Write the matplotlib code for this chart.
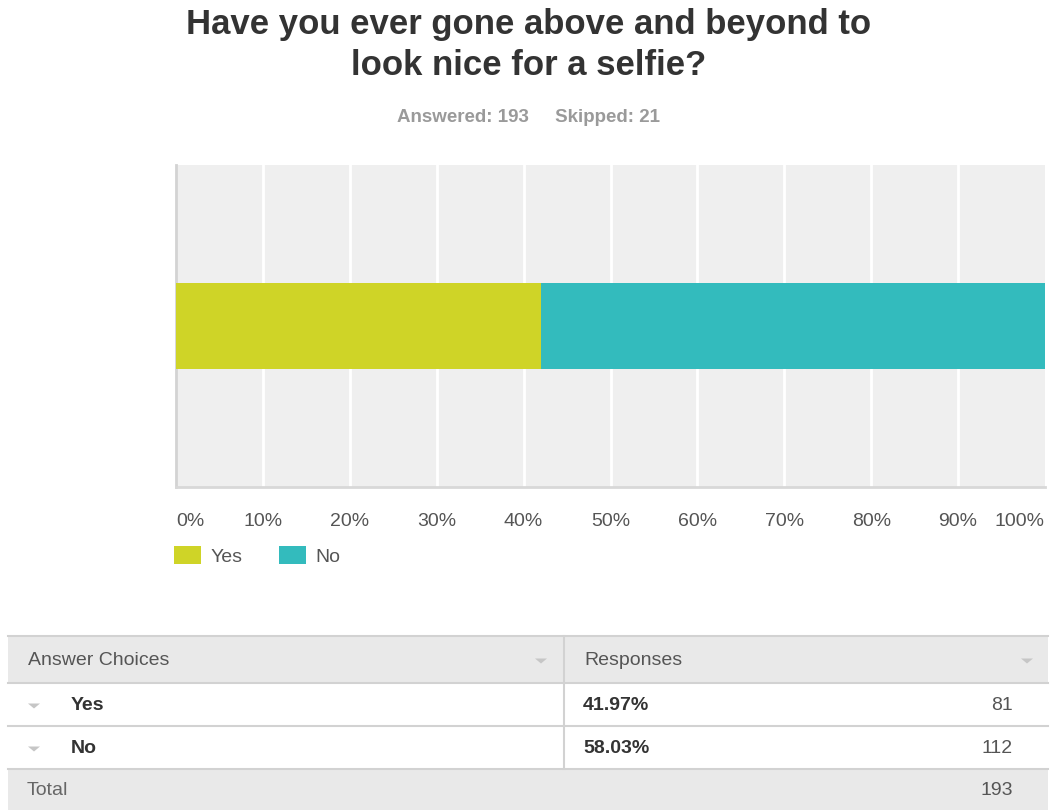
import matplotlib.pyplot as plt
from matplotlib.patches import Rectangle, Polygon

plt.rcParams['font.family'] = ['Liberation Sans', 'DejaVu Sans']

title = 'Have you ever gone above and beyond to\nlook nice for a selfie?'
answered = 193
skipped = 21
choices = ['Yes', 'No']
percents = [41.97, 58.03]
counts = [81, 112]
colors = ['#cfd427', '#33bbbd']
ticks = [0, 10, 20, 30, 40, 50, 60, 70, 80, 90, 100]

W, H = 1057, 810
fig = plt.figure(figsize=(W / 100, H / 100), dpi=100)


def fx(px):
    return px / W


def fy(py):
    return 1 - py / H


# page layer in pixel coordinates for titles and the table
page = fig.add_axes([0, 0, 1, 1], zorder=0)
page.set_xlim(0, W)
page.set_ylim(H, 0)
page.axis('off')

fig.text(0.5, fy(45), title, ha='center', va='center', fontsize=25,
         fontweight='bold', color='#333333', linespacing=1.3)
fig.text(0.5, fy(118), f'Answered: {answered}     Skipped: {skipped}',
         ha='center', va='center', fontsize=13.5, fontweight='bold', color='#9a9a9a')

# chart
ax = fig.add_axes([fx(176), fy(487), fx(1045 - 176), (487 - 165) / H], zorder=1)
ax.set_facecolor('#efefef')
left = 0
for name, p, c in zip(choices, percents, colors):
    ax.barh(0, p, left=left, height=0.27, color=c, label=name, zorder=3)
    left += p
ax.set_xlim(0, 100)
ax.set_ylim(-0.5, 0.5)
for t in ticks[1:-1]:
    ax.axvline(t, color='white', lw=2, zorder=1)
ax.set_yticks([])
ax.set_xticks(ticks)
labels = ax.set_xticklabels([f'{t}%' for t in ticks], fontsize=14, color='#555555')
labels[0].set_ha('left')
labels[-1].set_ha('right')
ax.tick_params(axis='x', length=0, pad=19)
for s in ['top', 'right']:
    ax.spines[s].set_visible(False)
ax.spines['left'].set_color('#d3d3d3')
ax.spines['left'].set_linewidth(2)
ax.spines['bottom'].set_color('#d8d8d8')
ax.spines['bottom'].set_linewidth(2)

ax.legend(loc='upper left', bbox_to_anchor=(fx(174), fy(546)),
          bbox_transform=fig.transFigure, ncol=2, frameon=False,
          fontsize=14, handlelength=1.4, handleheight=1.05,
          handletextpad=0.5, columnspacing=1.85, borderpad=0,
          borderaxespad=0, labelcolor='#555555')

# summary table
tx0, tx1, colx = 8, 1048, 564
row_y = [636, 683, 726, 769, 810]
page.add_patch(Rectangle((tx0, row_y[0]), tx1 - tx0, row_y[1] - row_y[0],
                         facecolor='#e9e9e9', edgecolor='none'))
page.add_patch(Rectangle((tx0, row_y[3]), tx1 - tx0, row_y[4] - row_y[3],
                         facecolor='#e9e9e9', edgecolor='none'))
for y in row_y[:4]:
    page.plot([tx0, tx1], [y, y], color='#d2d2d2', lw=1.5)
page.plot([colx, colx], [row_y[0], row_y[3]], color='#d2d2d2', lw=1.5)


def arrow(x, y):
    page.add_patch(Polygon([(x - 6, y - 2), (x + 6, y - 2), (x, y + 3)],
                           closed=True, facecolor='#c6c6c6', edgecolor='none'))


hy = (row_y[0] + row_y[1]) / 2 + 1
page.text(28, hy, 'Answer Choices', ha='left', va='center', fontsize=14, color='#555555')
page.text(584, hy, 'Responses', ha='left', va='center', fontsize=14, color='#555555')
arrow(541, hy)
arrow(1027, hy)

for i, (name, p, n) in enumerate(zip(choices, percents, counts)):
    cy = (row_y[i + 1] + row_y[i + 2]) / 2 + 1
    arrow(34, cy)
    page.text(71, cy, name, ha='left', va='center', fontsize=14,
              fontweight='bold', color='#333333')
    page.text(583, cy, f'{p:.2f}%', ha='left', va='center', fontsize=14,
              fontweight='bold', color='#333333')
    page.text(1013, cy, str(n), ha='right', va='center', fontsize=14, color='#555555')

ty = (row_y[3] + row_y[4]) / 2 + 1
page.text(27, ty, 'Total', ha='left', va='center', fontsize=14, color='#666666')
page.text(1013, ty, str(sum(counts)), ha='right', va='center', fontsize=14, color='#555555')

fig.savefig('out.png', dpi=100, facecolor='white')
